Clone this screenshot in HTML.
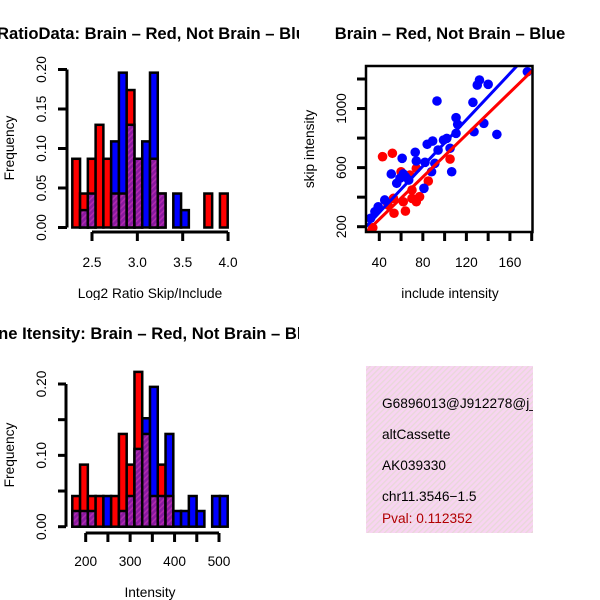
<!DOCTYPE html>
<html><head><meta charset="utf-8"><style>
html,body{margin:0;padding:0;background:#fff;}
svg{display:block;font-family:"Liberation Sans",Arial,sans-serif;}
</style></head><body>
<svg id="s" width="600" height="600" viewBox="0 0 600 600" xmlns="http://www.w3.org/2000/svg">
<defs>
<pattern id="hatch" width="4" height="4" patternUnits="userSpaceOnUse" patternTransform="rotate(45)">
<rect width="4" height="4" fill="#8a1aa0"/><rect width="1.5" height="4" fill="#b02ab0"/>
</pattern>
<pattern id="pinkhatch" width="4" height="4" patternUnits="userSpaceOnUse" patternTransform="rotate(45)">
<rect width="4" height="4" fill="#f8d4f2"/><rect width="1.3" height="4" fill="#e8d8d8"/>
</pattern>
<clipPath id="c1"><rect x="0" y="0" width="299" height="300"/></clipPath>
<clipPath id="c3"><rect x="0" y="300" width="299" height="300"/></clipPath>
<clipPath id="cs"><rect x="366" y="66" width="167" height="166"/></clipPath>
<clipPath id="cb"><rect x="366" y="366" width="167" height="167"/></clipPath>
</defs>
</svg>
<script>
// ---- data: ratio histogram (20 bins, frequencies)
const ratioRed  = [0.087,0.043,0.087,0.13,0.087,0.043,0.043,0.174,0.087,0,0.087,0.043,0,0,0,0,0,0.043,0,0.043];
const ratioBlue = [0,0.022,0.043,0,0,0.109,0.196,0.13,0.087,0.109,0.196,0.043,0,0.043,0.022,0,0,0,0,0];
const ratioXTicks = [2.5,3.0,3.5,4.0];
const ratioXLabels = ["2.5","3.0","3.5","4.0"];
const ratioYTicks = [0,0.05,0.10,0.15,0.20];
const ratioYLabels = ["0.00","0.05","0.10","0.15","0.20"];
// ---- data: intensity histogram
const intRed  = [0.043,0.087,0.043,0.043,0,0.043,0.13,0.087,0.217,0.13,0.043,0.087,0.043,0,0,0,0,0,0,0];
const intBlue = [0.022,0.022,0.022,0,0.043,0,0.022,0.043,0.109,0.152,0.196,0.043,0.13,0.022,0.022,0.043,0.022,0,0.043,0.043];
const intXTicks = [200,250,300,350,400,450,500];
const intXLabels = ["200","","300","","400","","500"];
const intYTicks = [0,0.05,0.10,0.15,0.20];
const intYLabels = ["0.00","","0.10","","0.20"];
// ---- data: scatter
const blueX = [176,132,130,140,93,126,110.5,112,136,127,148,110.5,102,99,89,84,105,94,61,73,74,82,91,88,106.5,51,62,56,67,81,45,39,36,32,59,64];
const blueY = [1249,1193,1159,1164,1051,1042,938,893,900,843,825,832,798,787,780,758,731,719,663,704,645,636,629,572,572,557,557,494,516,460,381,335,302,257,528,538];
const redX = [43,52,60,85,105,74,70,62,70,77,74,53.5,64,34,48,68,53];
const redY = [674,697,572,509,658,595,448,369,392,403,369,291,306,193,347,550,392];
const blueFit = [-18,7.85];
const redFit = [-36,7.16];
const scXTicks = [40,60,80,100,120,140,160,180];
const scXLabels = ["40","","80","","120","","160",""];
const scYTicks = [200,400,600,800,1000,1200];
const scYLabels = ["200","","600","","1000",""];

const FS=13.7, TS=16.6;
const NS="http://www.w3.org/2000/svg";
const svg=document.getElementById('s');
function mk(tag,attrs,parent){const e=document.createElementNS(NS,tag);for(const k in attrs)e.setAttribute(k,attrs[k]);(parent||svg).appendChild(e);return e;}
function txt(s,attrs,parent){const e=mk('text',attrs,parent);e.textContent=s;return e;}

function hist(g,red,blue,x0,bw,yb,yScale,name){
  for(let i=0;i<red.length;i++){
    const r=red[i],b=blue[i],lo=Math.min(r,b),hi=Math.max(r,b);
    if(hi<=0)continue;
    const x=x0+i*bw;
    const bar=mk('rect',{x:x,y:yScale(hi),width:bw,height:yb-yScale(hi),fill:r>=b?'#ff0000':'#0000ff',stroke:'#000','stroke-width':2.5},g);
    
    
    if(lo>0){
      const p=mk('rect',{x:x,y:yScale(lo),width:bw,height:yb-yScale(lo),fill:'url(#hatch)',stroke:'#000','stroke-width':2.5},g);
      
      
    }
  }
}

// ===== Panel 1: ratio histogram
const g1=mk('g',{'clip-path':'url(#c1)'});


const y1=v=>227.5-v/0.2*158;
const x1=v=>92+(v-2.5)*90.7;
hist(g1,ratioRed,ratioBlue,72.3,7.77,227.5,y1,'ratio');
mk('line',{x1:67,y1:y1(0),x2:67,y2:y1(0.2),stroke:'#000','stroke-width':3},g1);
ratioYTicks.forEach((t,i)=>{mk('line',{x1:58,y1:y1(t),x2:67,y2:y1(t),stroke:'#000','stroke-width':3},g1);
  const l=txt(ratioYLabels[i],{x:0,y:0,'font-size':FS,'text-anchor':'middle',transform:`translate(46,${y1(t)}) rotate(-90)`},g1);
  });
mk('line',{x1:x1(2.5),y1:232,x2:x1(4.0),y2:232,stroke:'#000','stroke-width':3},g1);
ratioXTicks.forEach((t,i)=>{mk('line',{x1:x1(t),y1:232,x2:x1(t),y2:241,stroke:'#000','stroke-width':3},g1);
  const l=txt(ratioXLabels[i],{x:x1(t),y:267,'font-size':FS,'text-anchor':'middle'},g1);
  });
txt('RatioData: Brain \u2013 Red, Not Brain \u2013 Blue',{x:-3,y:39,'font-size':TS,'font-weight':'bold',},g1);
txt('Log2 Ratio Skip/Include',{x:150,y:298,'font-size':FS,'text-anchor':'middle',},g1);
txt('Frequency',{x:0,y:0,'font-size':FS,'text-anchor':'middle',transform:'translate(14,148) rotate(-90)',},g1);

// ===== Panel 3: intensity histogram
const g3=mk('g',{'clip-path':'url(#c3)'});


const y3=v=>526.7-v/0.2*142.7;
const x3=v=>85.7+(v-200)*0.4443;
hist(g3,intRed,intBlue,72.3,7.77,526.7,y3,'intensity');
mk('line',{x1:66,y1:y3(0),x2:66,y2:y3(0.2),stroke:'#000','stroke-width':3},g3);
intYTicks.forEach((t,i)=>{mk('line',{x1:58,y1:y3(t),x2:66,y2:y3(t),stroke:'#000','stroke-width':3},g3);
  if(intYLabels[i]){const l=txt(intYLabels[i],{x:0,y:0,'font-size':FS,'text-anchor':'middle',transform:`translate(46,${y3(t)}) rotate(-90)`},g3);
  }});
mk('line',{x1:x3(200),y1:533,x2:x3(500),y2:533,stroke:'#000','stroke-width':3},g3);
intXTicks.forEach((t,i)=>{mk('line',{x1:x3(t),y1:533,x2:x3(t),y2:542,stroke:'#000','stroke-width':3},g3);
  if(intXLabels[i]){const l=txt(intXLabels[i],{x:x3(t),y:566,'font-size':FS,'text-anchor':'middle'},g3);
  }});
txt('Gene Itensity: Brain \u2013 Red, Not Brain \u2013 Blue',{x:-24,y:339,'font-size':TS,'font-weight':'bold',},g3);
txt('Intensity',{x:150,y:597,'font-size':FS,'text-anchor':'middle',},g3);
txt('Frequency',{x:0,y:0,'font-size':FS,'text-anchor':'middle',transform:'translate(14,455) rotate(-90)',},g3);

// ===== Panel 2: scatter
const g2=mk('g',{});


const sx=v=>379.3+(v-40)*1.0886;
const sy=v=>226.7-(v-200)*0.1477;
const pts=mk('g',{'clip-path':'url(#cs)'},g2);
redX.forEach((v,i)=>{const c=mk('circle',{cx:sx(v),cy:sy(redY[i]),r:4.8,fill:'#ff0000'},pts);
  });
blueX.forEach((v,i)=>{const c=mk('circle',{cx:sx(v),cy:sy(blueY[i]),r:4.8,fill:'#0000ff'},pts);
  });
[[blueFit,'#0000ff','blue-fit-line'],[redFit,'#ff0000','red-fit-line']].forEach(([f,col,nm])=>{
  const xa=20,xb=200;
  const l=mk('line',{x1:sx(xa),y1:sy(f[0]+f[1]*xa),x2:sx(xb),y2:sy(f[0]+f[1]*xb),stroke:col,'stroke-width':3},pts);
  });
mk('rect',{x:366,y:66,width:166.5,height:166,fill:'none',stroke:'#000','stroke-width':2.5,},g2);
scXTicks.forEach((t,i)=>{mk('line',{x1:sx(t),y1:232,x2:sx(t),y2:241,stroke:'#000','stroke-width':3},g2);
  if(scXLabels[i]){const l=txt(scXLabels[i],{x:sx(t),y:267,'font-size':FS,'text-anchor':'middle'},g2);
  }});
scYTicks.forEach((t,i)=>{mk('line',{x1:357,y1:sy(t),x2:366,y2:sy(t),stroke:'#000','stroke-width':3},g2);
  if(scYLabels[i]){const l=txt(scYLabels[i],{x:0,y:0,'font-size':FS,'text-anchor':'middle',transform:`translate(346,${sy(t)}) rotate(-90)`},g2);
  }});
txt('Brain \u2013 Red, Not Brain \u2013 Blue',{x:450,y:39,'font-size':TS,'font-weight':'bold','text-anchor':'middle',},g2);
txt('include intensity',{x:450,y:298,'font-size':FS,'text-anchor':'middle',},g2);
txt('skip intensity',{x:0,y:0,'font-size':FS,'text-anchor':'middle',transform:'translate(314,149) rotate(-90)',},g2);

// ===== Panel 4: info box
const g4=mk('g',{'clip-path':'url(#cb)'});


mk('rect',{x:366,y:366,width:167,height:167,fill:'url(#pinkhatch)'},g4);
[['G6896013@J912278@j_at','#000',408,'gene-id'],['altCassette','#000',439,'event-type'],['AK039330','#000',470,'accession'],['chr11.3546\u22121.5','#000',501,'location'],['Pval: 0.112352','#b00000',523,'p-value']].forEach(([s,c,y,n])=>{
  const t=txt(s,{x:382,y:y,'font-size':FS,fill:c},g4);
  });
</script>
</body></html>
